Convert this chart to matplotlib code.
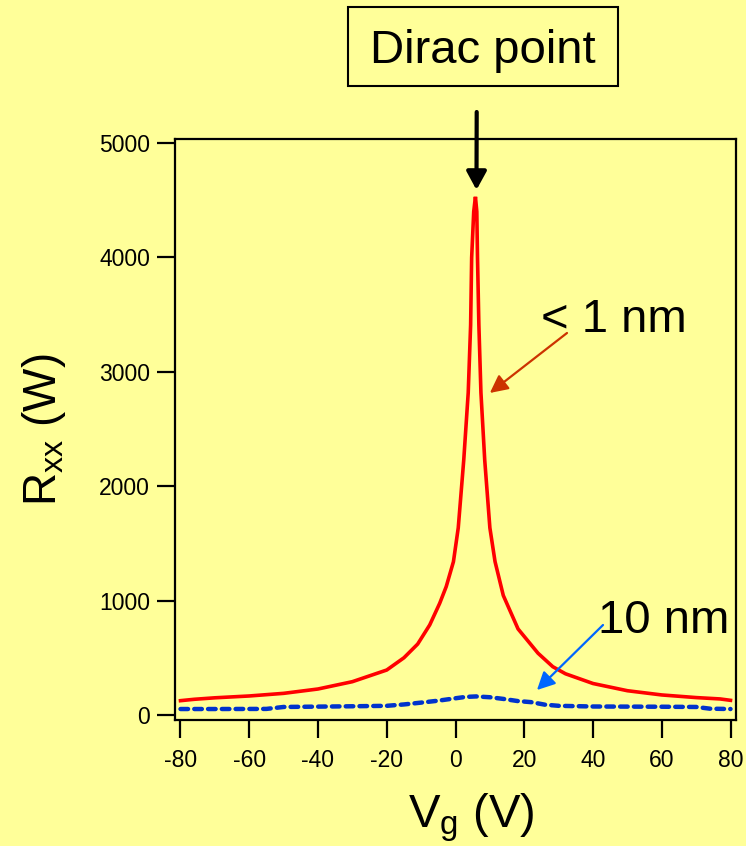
import matplotlib
matplotlib.use("Agg")
import matplotlib.pyplot as plt
from matplotlib.patches import Rectangle

# Gate sweep, sample with < 1 nm spacer (solid red)
vg_thin = [-80, -76, -70, -60, -50, -40, -30, -20, -15, -11, -7.5, -4.6, -2.7,
           -0.6, 0.8, 2.4, 3.7, 4.4, 4.7, 5.3, 5.8, 6.2, 6.4, 6.8, 7.4, 8.5,
           10, 11.5, 13.9, 18.2, 24, 28.3, 32, 40, 50, 60, 70, 77, 80]
rxx_thin = [125, 137, 150, 166, 189, 227, 291, 393, 500, 620, 787, 976, 1122,
            1340, 1636, 2229, 2817, 3409, 3998, 4400, 4530, 4400, 3998, 3409, 2817, 2229,
            1636, 1341, 1045, 752, 540, 422, 360, 275, 212, 175, 152, 140, 128]

# Gate sweep, sample with 10 nm spacer (dotted blue)
vg_thick = [-80, -70, -55, -50, -40, -30, -20, -15, -10, -5, 0, 3, 6, 10,
            14, 18, 22, 26, 30, 40, 50, 60, 70, 74, 80]
rxx_thick = [52, 52, 53, 70, 73, 76, 80, 92, 108, 125, 146, 158, 162, 155,
             140, 122, 112, 90, 80, 74, 73, 72, 70, 55, 52]

x_ticks = [-80, -60, -40, -20, 0, 20, 40, 60, 80]
y_ticks = [0, 1000, 2000, 3000, 4000, 5000]

dirac_tip = (6.1, 4590)
thin_tip = (10.0, 2815)
thick_tip = (23.7, 218)

W, H = 746, 846
BG = "#FFFF99"

plt.rcParams["font.family"] = ["Liberation Sans", "DejaVu Sans"]
plt.rcParams["mathtext.default"] = "regular"
plt.rcParams["axes.unicode_minus"] = False

fig = plt.figure(figsize=(W / 100, H / 100), dpi=100, facecolor=BG)


def px(x, y):
    """Top-left pixel position -> figure fraction."""
    return (x / W, 1 - y / H)


ax = fig.add_axes([175 / W, 1 - 720 / H, 561 / W, 581 / H], facecolor=BG)

ax.plot(vg_thin, rxx_thin, color="#FF0000", lw=2.6, solid_joinstyle="miter", zorder=3)
ax.plot(vg_thick, rxx_thick, color="#0033CC", lw=3.2, dashes=(1.7, 1.4),
        dash_capstyle="round", zorder=3)

ax.set_xlim(-81.6, 81.6)
ax.set_ylim(-44, 5035)
ax.set_xticks(x_ticks)
ax.set_yticks(y_ticks)
ax.tick_params(axis="both", direction="out", length=13, width=1.6,
               labelsize=16.5, top=False, right=False, color="black")
ax.tick_params(axis="x", pad=8)
ax.tick_params(axis="y", pad=5)
for s in ax.spines.values():
    s.set_linewidth(1.6)
    s.set_color("black")

ax.set_xlabel("V$_g$ (V)", fontsize=34)
ax.set_ylabel("R$_{xx}$ (W)", fontsize=33)
ax.xaxis.set_label_coords(0.529, -0.123)
ax.yaxis.set_label_coords(-0.19, 0.5)

# Dirac point label box and arrow
fig.patches.append(Rectangle(px(348, 86), 270 / W, 79 / H, transform=fig.transFigure,
                             facecolor=BG, edgecolor="black", lw=1.5))
fig.text(*px(483, 63), "Dirac point", ha="center", va="baseline", fontsize=34)
ax.annotate("", xy=dirac_tip, xycoords="data", xytext=px(476.7, 112),
            textcoords="figure fraction", annotation_clip=False,
            arrowprops=dict(arrowstyle="-|>,head_length=0.55,head_width=0.3",
                            mutation_scale=20, lw=3, color="black",
                            shrinkA=0, shrinkB=0))

# Sample labels with pointers
fig.text(*px(541, 332), "< 1 nm", ha="left", va="baseline", fontsize=34)
ax.annotate("", xy=thin_tip, xycoords="data", xytext=px(567, 333),
            textcoords="figure fraction", annotation_clip=False,
            arrowprops=dict(arrowstyle="-|>,head_length=0.6,head_width=0.3",
                            mutation_scale=18, lw=1.6, color="#CC3300",
                            shrinkA=0, shrinkB=0))

fig.text(*px(598, 633), "10 nm", ha="left", va="baseline", fontsize=34)
ax.annotate("", xy=thick_tip, xycoords="data", xytext=px(603, 625),
            textcoords="figure fraction", annotation_clip=False,
            arrowprops=dict(arrowstyle="-|>,head_length=0.6,head_width=0.3",
                            mutation_scale=18, lw=1.6, color="#0066FF",
                            shrinkA=0, shrinkB=0))

fig.savefig("out.png", dpi=100, facecolor=BG)
